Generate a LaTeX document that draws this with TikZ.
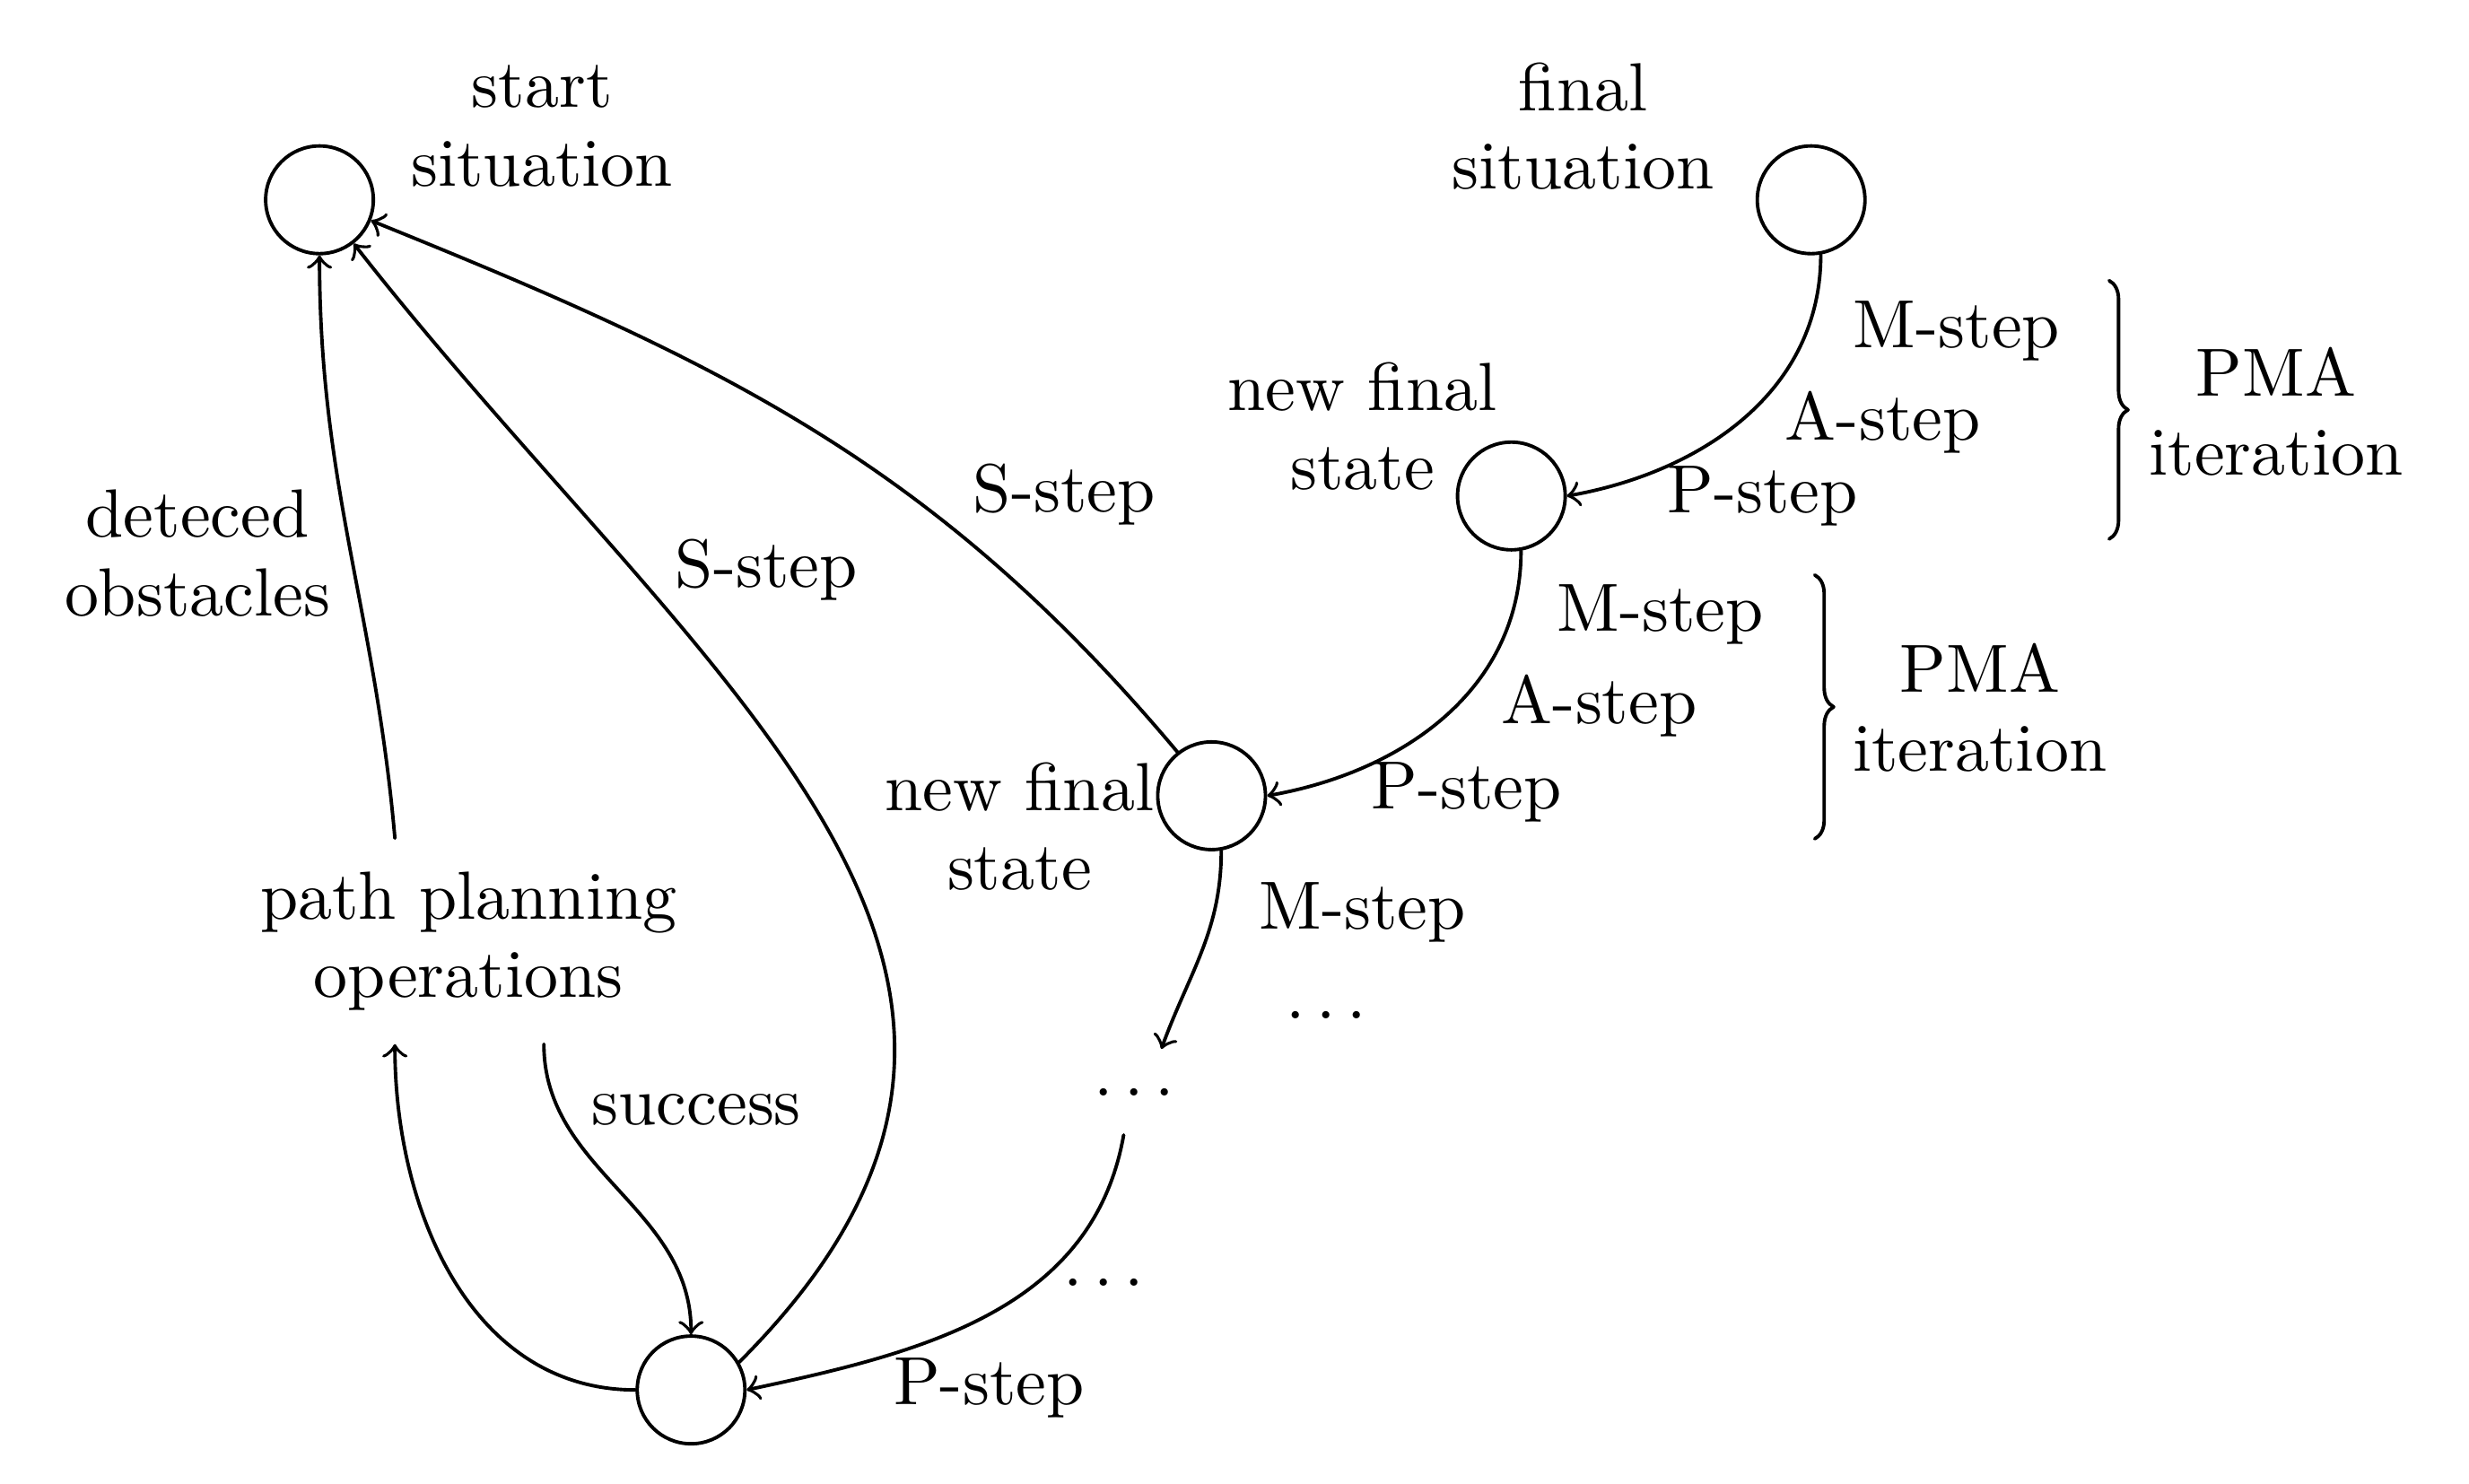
\documentclass[tikz,border=0pt]{standalone}
\usetikzlibrary{decorations.pathreplacing}
\begin{document}
\begin{tikzpicture}[font=\fontsize{10.8}{12.5}\selectfont, line join=round, line cap=round, >=to, line width=0.55pt,
		state/.style={draw, circle, minimum size=0.6cm, inner sep=0pt},
		lbl/.style={align=center, inner sep=1pt},
		pmabrace/.style={decorate, decoration={brace, amplitude=3pt}}]
	\useasboundingbox (0,0) rectangle (13.755,8.263);
	% situations and states
	\node[state] (S) at (1.78,7.15) {};
	\node[state] (F) at (10.09,7.15) {};
	\node[state] (N1) at (8.42,5.50) {};
	\node[state] (N2) at (6.75,3.83) {};
	\node[state] (B) at (3.85,0.52) {};
	\node[minimum height=0.46cm, inner sep=0pt] (D) at (6.32,2.18) {$\ldots$};
	\node[lbl, inner sep=5pt] (P) at (2.61,3.02) {path planning\\operations};
	% labels
	\node[lbl] (Slbl) at (3.02,7.56) {start\\situation};
	\node[lbl] (Flbl) at (8.82,7.56) {final\\situation};
	\node[lbl] (N1lbl) at (7.59,5.89) {new final\\state};
	\node[lbl] (N2lbl) at (5.68,3.66) {new final\\state};
	\node[lbl] (obst) at (1.10,5.18) {deteced\\obstacles};
	\node[lbl] (succ) at (3.88,2.08) {success};
	\node[lbl] (S1) at (5.93,5.51) {S-step};
	\node[lbl] (S2) at (4.27,5.09) {S-step};
	\node[lbl] (M1) at (10.90,6.42) {M-step};
	\node[lbl] (A1) at (10.49,5.91) {A-step};
	\node[lbl] (P1) at (9.82,5.50) {P-step};
	\node[lbl] (M2) at (9.25,4.84) {M-step};
	\node[lbl] (A2) at (8.91,4.33) {A-step};
	\node[lbl] (P2) at (8.17,3.85) {P-step};
	\node[lbl] (M3) at (7.59,3.18) {M-step};
	\node[lbl] (D1) at (7.39,2.61) {$\ldots$};
	\node[lbl] (D2) at (6.15,1.12) {$\ldots$};
	\node[lbl] (P3) at (5.51,0.53) {P-step};
	\node[lbl] (pma1) at (12.68,5.97) {PMA\\iteration};
	\node[lbl] (pma2) at (11.03,4.32) {PMA\\iteration};
	% braces
	\coordinate (b1t) at (11.75,6.70);
	\coordinate (b1b) at (11.75,5.26);
	\coordinate (b2t) at (10.11,5.06);
	\coordinate (b2b) at (10.11,3.59);
	\draw[pmabrace] (b1t)--(b1b);
	\draw[pmabrace] (b2t)--(b2b);
	% transitions
	\draw[->] (F.-80) to[out=-90,in=10] (N1.east);
	\draw[->] (N1.-80) to[out=-90,in=10] (N2.east);
	\draw[->] (N2.-80) to[out=-90,in=70] ([xshift=0.15cm]D.north);
	\draw[->] ([xshift=-0.06cm]D.south) to[out=-100,in=12] (B.east);
	\draw[->] (N2.128) to[out=130,in=-22] (S.-22);
	\draw[->] (B.30) to[out=45,in=-52,looseness=1.2] (S.-52);
	\draw[->] (B.west) to[out=180,in=-90] ([xshift=-0.41cm]P.south);
	\draw[->] ([xshift=0.42cm]P.south) to[out=-90,in=90] (B.north);
	\draw[->] ([xshift=-0.41cm]P.north) to[out=95,in=-90] (S.south);
\end{tikzpicture}
\end{document}
